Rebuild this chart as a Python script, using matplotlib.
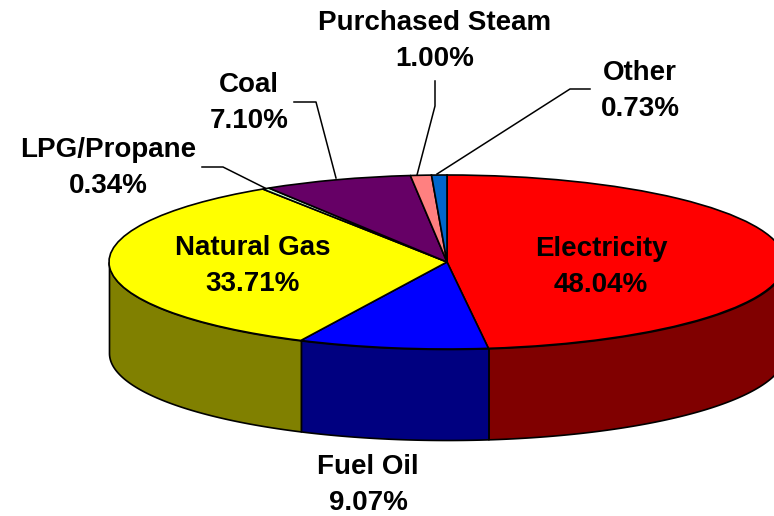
import matplotlib
matplotlib.use('Agg')
import matplotlib.pyplot as plt
import numpy as np
from matplotlib.transforms import Affine2D

labels = ['Electricity', 'Fuel Oil', 'Natural Gas', 'LPG/Propane', 'Coal', 'Purchased Steam', 'Other']
shares = [48.04, 9.07, 33.71, 0.34, 7.10, 1.00, 0.73]
top_colors = ['#ff0000', '#0000ff', '#ffff00', '#ccffcc', '#660066', '#ff8080', '#0066cc']
side_colors = ['#800000', '#000080', '#808000', '#667f66', '#330033', '#7f4040', '#003366']

plt.rcParams['font.family'] = ['Liberation Sans', 'DejaVu Sans']

W, H = 774, 516
cx, cy = 447, 516 - 262
rx, ry = 338, 87
depth = 91

fig = plt.figure(figsize=(W / 100, H / 100), dpi=100)
ax = fig.add_axes([0, 0, 1, 1])

wedges, _ = ax.pie(shares, colors=top_colors, startangle=90, counterclock=False,
                   wedgeprops={'edgecolor': 'black', 'linewidth': 1.2})
squash = Affine2D().scale(rx, ry).translate(cx, cy) + ax.transData
for w in wedges:
    w.set_transform(squash)
    w.set_zorder(3)

# side wall, only the part of each slice below the horizon shows
for w, col in zip(wedges, side_colors):
    a0, a1 = w.theta1 % 360, w.theta2 % 360
    if a1 <= a0:
        a1 += 360
    ranges = [(max(a0, 180), min(a1, 360)), (max(a0, 540), min(a1, 720))]
    for lo, hi in ranges:
        if hi <= lo:
            continue
        t = np.radians(np.linspace(lo, hi, 100))
        x = cx + rx * np.cos(t)
        y = cy + ry * np.sin(t)
        ax.fill_between(x, y - depth, y, color=col, ec='black', lw=1.2, zorder=1)

ax.set_xlim(0, W)
ax.set_ylim(0, H)
ax.set_aspect('auto')
ax.axis('off')

def px(x, y):
    return x, H - y

# labels, in pixel positions
label_pos = [(601, 267), (368, 485), (253, 266), (108, 168), (249, 103), (435, 41), (640, 91)]
for name, val, pos in zip(labels, shares, label_pos):
    ax.text(*px(*pos), f'{name}\n{val:.2f}%', ha='center', va='center', fontsize=20,
            fontweight='bold', linespacing=1.46, color='black', zorder=5)

# leader lines
leaders = [
    ([202, 223, 265], [167, 167, 188]),
    ([294, 316, 336], [102, 102, 178]),
    ([435, 435, 417], [81, 106, 175]),
    ([590, 570, 437], [89, 89, 174]),
]
for xs, ys in leaders:
    ax.plot(xs, [H - v for v in ys], color='black', lw=1.1, zorder=4)

fig.savefig('out.png', dpi=100)
